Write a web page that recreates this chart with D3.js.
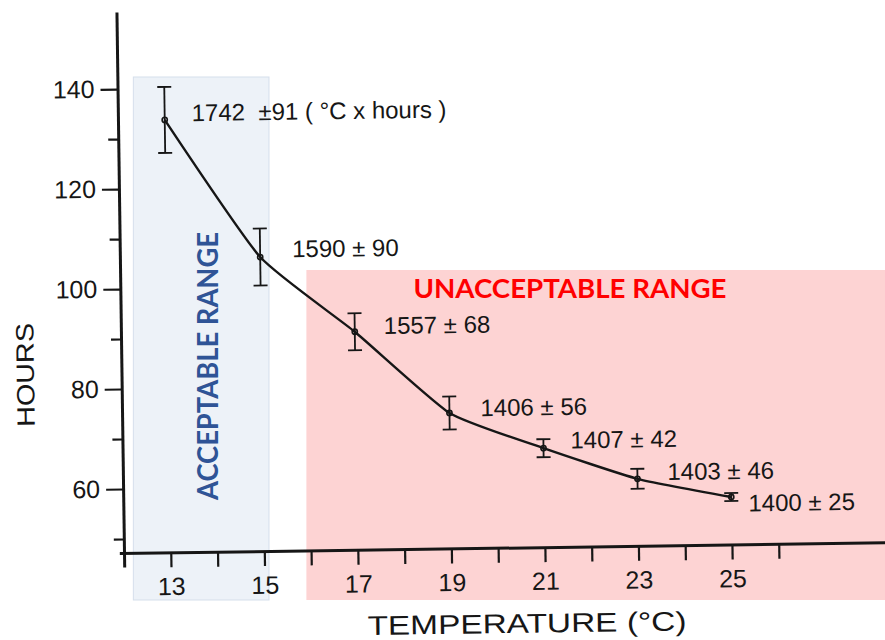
<!DOCTYPE html>
<html>
<head>
<meta charset="utf-8">
<script src="https://cdn.jsdelivr.net/npm/d3@7"></script>
<style>
    body { margin: 0; background: #fff; }
    svg { display: block; }
    text { font-family: "Liberation Sans", Arial, sans-serif; fill: #1e1e1e; }
    .band-label { font-family: Lato, "Open Sans", sans-serif; font-weight: 700; }
</style>
</head>
<body>
<svg id="chart"></svg>
<script>
// values
const temps = [13, 15, 17, 19, 21, 23, 25];
const hours = [133.7, 106.0, 90.8, 74.3, 67.0, 60.6, 56.7];
const hoursErr = [6.6, 5.7, 3.7, 3.3, 1.8, 2.0, 0.8];
const degreeHours = [1742, 1590, 1557, 1406, 1407, 1403, 1400];
const degreeHoursErr = [91, 90, 68, 56, 42, 46, 25];

const xTickLabels = [13, 15, 17, 19, 21, 23, 25];
const xMinorTicks = [14, 16, 18, 20, 22, 24, 26];
const yTickLabels = [60, 80, 100, 120, 140];
const yMinorTicks = [50, 70, 90, 110, 130];

const bandNames = ['ACCEPTABLE RANGE', 'UNACCEPTABLE RANGE'];
const bandTemps = [[12.2, 15.1], [15.9, 28.3]];
const bandTops = [142.4, 103.8];
const bandBottom = 37.8;

const W = 885, H = 640;
const svg = d3.select('#chart').attr('width', W).attr('height', H);

// scales (the scanned plot is slightly tilted, see group transform below)
const x = d3.scaleLinear().domain([12, 25]).range([124, 732]);
const y = d3.scaleLinear().domain([140, 60]).range([89, 489]);

// coloured overlays (drawn straight, under the ink)
const bandFill = ['#edf2f8', '#fdd3d3'];
const bandStroke = ['#d5dfeb', 'none'];
svg.selectAll('rect.band')
    .data(bandNames)
    .enter()
    .append('rect')
    .attr('class', 'band')
    .attr('x', (d, i) => x(bandTemps[i][0]))
    .attr('width', (d, i) => x(bandTemps[i][1]) - x(bandTemps[i][0]))
    .attr('y', (d, i) => y(bandTops[i]))
    .attr('height', (d, i) => y(bandBottom) - y(bandTops[i]))
    .style('fill', (d, i) => bandFill[i])
    .style('stroke', (d, i) => bandStroke[i]);

// band captions
svg.append('text')
    .attr('class', 'band-label')
    .attr('transform', 'translate(218,366) rotate(-90)')
    .attr('text-anchor', 'middle')
    .attr('textLength', 268)
    .attr('lengthAdjust', 'spacingAndGlyphs')
    .style('font-size', '29px')
    .style('fill', '#2f5496')
    .text(bandNames[0]);

svg.append('text')
    .attr('class', 'band-label')
    .attr('x', 570)
    .attr('y', 298)
    .attr('text-anchor', 'middle')
    .attr('textLength', 313)
    .attr('lengthAdjust', 'spacingAndGlyphs')
    .style('font-size', '27px')
    .style('fill', '#ff0000')
    .text(bandNames[1]);

// the scanned figure
const g = svg.append('g').attr('transform', 'rotate(-0.8,124,553)');
const ink = '#161616';

// x axis
const xAxisScale = x.copy().domain([11.9, 28.3]).range([x(11.9), x(28.3)]);
g.append('g')
    .attr('transform', `translate(0,${y(47.2)})`)
    .call(d3.axisBottom(xAxisScale)
        .tickValues(xTickLabels.concat(xMinorTicks))
        .tickFormat(d => xTickLabels.includes(d) ? d : '')
        .tickSize(15)
        .tickSizeOuter(0)
        .tickPadding(10));

// y axis
const yAxisScale = y.copy().domain([155.4, 44.4]).range([y(155.4), y(44.4)]);
g.append('g')
    .attr('transform', `translate(${x(12)},0)`)
    .call(d3.axisLeft(yAxisScale)
        .tickValues(yTickLabels)
        .tickSize(17)
        .tickSizeOuter(0)
        .tickPadding(6));
g.append('g')
    .attr('transform', `translate(${x(12)},0)`)
    .call(d3.axisLeft(y).tickValues(yMinorTicks).tickSize(10).tickSizeOuter(0).tickFormat(''))
    .select('.domain').remove();

g.selectAll('.domain').style('stroke', ink).style('stroke-width', 3);
g.selectAll('.tick line').style('stroke', ink).style('stroke-width', 2.2);
g.selectAll('.tick text')
    .style('font-family', '"Liberation Sans", Arial, sans-serif')
    .style('font-size', '25px')
    .style('fill', ink);

// curve
const pts = temps.map((t, i) => [t, hours[i]]);
g.append('path')
    .attr('d', d3.line()
        .x(d => x(d[0]))
        .y(d => y(d[1]))
        .curve(d3.curveCardinal.tension(0.5))(pts))
    .style('fill', 'none')
    .style('stroke', ink)
    .style('stroke-width', 2.4);

// error bars
const capW = 7;
const bars = g.selectAll('g.err')
    .data(temps)
    .enter()
    .append('g')
    .attr('class', 'err')
    .style('stroke', ink)
    .style('stroke-width', 1.8);
bars.append('line')
    .attr('x1', d => x(d)).attr('x2', d => x(d))
    .attr('y1', (d, i) => y(hours[i] + hoursErr[i]))
    .attr('y2', (d, i) => y(hours[i] - hoursErr[i]));
bars.append('line')
    .attr('x1', d => x(d) - capW).attr('x2', d => x(d) + capW)
    .attr('y1', (d, i) => y(hours[i] + hoursErr[i]))
    .attr('y2', (d, i) => y(hours[i] + hoursErr[i]));
bars.append('line')
    .attr('x1', d => x(d) - capW).attr('x2', d => x(d) + capW)
    .attr('y1', (d, i) => y(hours[i] - hoursErr[i]))
    .attr('y2', (d, i) => y(hours[i] - hoursErr[i]));
bars.append('circle')
    .attr('cx', d => x(d))
    .attr('cy', (d, i) => y(hours[i]))
    .attr('r', 2.6)
    .style('fill', 'none')
    .style('stroke-width', 1.6);

// degree-hour labels
const labelOffsets = [[27, -7], [32, -8], [29, -6], [31, -5], [27, -8], [30, -7], [17, 6]];
g.selectAll('text.dh')
    .data(temps)
    .enter()
    .append('text')
    .attr('class', 'dh')
    .attr('x', (d, i) => x(d) + labelOffsets[i][0])
    .attr('y', (d, i) => y(hours[i]) + labelOffsets[i][1])
    .attr('dy', '0.36em')
    .style('white-space', 'pre')
    .style('font-size', '24px')
    .style('fill', ink)
    .text((d, i) => i === 0
        ? `${degreeHours[i]}  ±${degreeHoursErr[i]} ( °C x hours )`
        : `${degreeHours[i]} ± ${degreeHoursErr[i]}`);

// axis titles
svg.append('text')
    .attr('transform', 'translate(25,375) rotate(-90.8)')
    .attr('text-anchor', 'middle')
    .attr('dy', '0.36em')
    .attr('textLength', 104)
    .attr('lengthAdjust', 'spacingAndGlyphs')
    .style('font-size', '25px')
    .style('fill', ink)
    .text('HOURS');

svg.append('text')
    .attr('transform', 'translate(527,623) rotate(-0.8)')
    .attr('text-anchor', 'middle')
    .attr('dy', '0.36em')
    .attr('textLength', 319)
    .attr('lengthAdjust', 'spacingAndGlyphs')
    .style('font-size', '27px')
    .style('fill', ink)
    .text('TEMPERATURE (°C)');
</script>
</body>
</html>
